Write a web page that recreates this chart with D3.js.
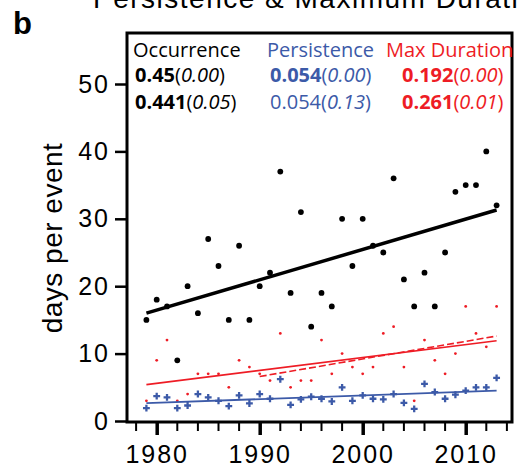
<!DOCTYPE html>
<html>
<head>
<meta charset="utf-8">
<script src="https://cdn.jsdelivr.net/npm/d3@7"></script>
<style>
body { margin: 0; background: #fff; }
</style>
</head>
<body>
<div id="chart"></div>
<script>
const WIDTH = 518;
const HEIGHT = 475;
const BLUE = "#3c5aa8";
const RED = "#ee1c25";

const years = [1979, 1980, 1981, 1982, 1983, 1984, 1985, 1986, 1987, 1988, 1989, 1990,
  1991, 1992, 1993, 1994, 1995, 1996, 1997, 1998, 1999, 2000, 2001, 2002, 2003, 2004,
  2005, 2006, 2007, 2008, 2009, 2010, 2011, 2012, 2013];
const occurrence = [15, 18, 17, 9, 20, 16, 27, 23, 15, 26, 15, 20, 22, 37, 19, 31, 14, 19,
  17, 30, 23, 30, 26, 25, 36, 21, 17, 22, 17, 25, 34, 35, 35, 40, 32];
const maxDuration = [3, 9, 12, 3, 4, 7, 7, 7, 5, 9, 8, 7, 6, 13, 5, 6, 6, 12, 7, 10, 8, 7,
  8, 13, 14, 8, 3, 12, 9, 7, 10, 17, 13, 11, 17];
const persistence = [1.9, 3.7, 3.5, 1.9, 2.3, 4.0, 3.5, 3.0, 2.2, 3.8, 2.6, 4.0, 3.3, 6.2,
  2.4, 3.2, 3.6, 3.3, 2.9, 5.0, 3.0, 3.8, 3.3, 3.2, 4.0, 2.7, 1.8, 5.5, 4.3, 3.3, 3.9, 4.5,
  5.0, 5.0, 6.4];

// trend line end points
const occTrend = [[1979, 16.0], [2013, 31.3]];
const durTrend = [[1979, 5.4], [2013, 11.9]];
const durTrend90 = [[1990, 6.6], [2013, 12.6]];
const perTrend = [[1979, 2.65], [2013, 4.5]];

const yTicks = [0, 10, 20, 30, 40, 50];
const xMajor = [1980, 1990, 2000, 2010];
const xMinor = [1978, 1982, 1984, 1986, 1988, 1992, 1994, 1996, 1998, 2002, 2004, 2006, 2008, 2012, 2014];

const legendHeads = ["Occurrence", "Persistence", "Max Duration"];
const legendRow1 = [["0.45", "0.00"], ["0.054", "0.00"], ["0.192", "0.00"]];
const legendRow2 = [["0.441", "0.05"], ["0.054", "0.13"], ["0.261", "0.01"]];

const svg = d3.select("#chart").append("svg")
  .attr("width", WIDTH)
  .attr("height", HEIGHT);

const x = d3.scaleLinear().domain([1980, 2010]).range([156.7, 465.7]);
const y = d3.scaleLinear().domain([0, 50]).range([421, 84]);

const frame = { left: 127, right: 512, top: 33, bottom: 422 };

// title (cut off at the top and right, as in the figure) and panel letter
svg.append("text")
  .attr("x", 93).attr("y", 8)
  .style("font-family", "Liberation Sans, Arial, sans-serif")
  .style("font-size", "28px")
  .style("letter-spacing", "1.5px")
  .text("Persistence & Maximum Duration");

svg.append("text")
  .attr("x", 13).attr("y", 34)
  .style("font-family", "Liberation Sans, Arial, sans-serif")
  .style("font-size", "31px")
  .style("font-weight", "bold")
  .text("b");

// y axis
const yAxis = svg.append("g")
  .attr("transform", `translate(${frame.left},0)`)
  .call(d3.axisLeft(y).tickValues(yTicks).tickSize(12).tickPadding(5));
yAxis.select(".domain").remove();
yAxis.selectAll(".tick line").attr("stroke", "black").attr("stroke-width", 2.5);
yAxis.selectAll(".tick text")
  .style("font-family", "Liberation Sans, Arial, sans-serif")
  .style("font-size", "25px")
  .style("letter-spacing", "2px")
  .attr("fill", "black");

// x axis
const xAxis = svg.append("g")
  .attr("transform", `translate(0,${frame.bottom})`)
  .call(d3.axisBottom(x).tickValues(xMajor).tickFormat(d3.format("d")).tickSize(13).tickPadding(10));
xAxis.select(".domain").remove();
xAxis.selectAll(".tick line").attr("stroke", "black").attr("stroke-width", 3.5);
xAxis.selectAll(".tick text")
  .style("font-family", "Liberation Sans, Arial, sans-serif")
  .style("font-size", "25px")
  .style("letter-spacing", "2px")
  .attr("fill", "black");

svg.append("g").selectAll("line")
  .data(xMinor)
  .enter()
  .append("line")
  .attr("x1", d => x(d)).attr("x2", d => x(d))
  .attr("y1", frame.bottom).attr("y2", frame.bottom + 9)
  .attr("stroke", "black").attr("stroke-width", 2);

svg.append("text")
  .attr("transform", "translate(62,238) rotate(-90)")
  .attr("text-anchor", "middle")
  .style("font-family", "Liberation Sans, Arial, sans-serif")
  .style("font-size", "28px")
  .style("letter-spacing", "0.5px")
  .text("days per event");

// frame
svg.append("rect")
  .attr("x", frame.left).attr("y", frame.top)
  .attr("width", frame.right - frame.left)
  .attr("height", frame.bottom - frame.top)
  .attr("fill", "none")
  .attr("stroke", "black")
  .attr("stroke-width", 3);

// points
svg.append("g").selectAll("circle")
  .data(years)
  .enter()
  .append("circle")
  .attr("cx", d => x(d))
  .attr("cy", (d, i) => y(occurrence[i]))
  .attr("r", 2.9)
  .attr("fill", "black");

svg.append("g").selectAll("circle")
  .data(years)
  .enter()
  .append("circle")
  .attr("cx", d => x(d))
  .attr("cy", (d, i) => y(maxDuration[i]))
  .attr("r", 1.4)
  .attr("fill", RED);

const cross = d3.symbol().type(d3.symbolCross).size(26);
svg.append("g").selectAll("path")
  .data(years)
  .enter()
  .append("path")
  .attr("d", cross)
  .attr("transform", (d, i) => `translate(${x(d)},${y(persistence[i])})`)
  .attr("fill", BLUE);

// trend lines
const line = d3.line().x(d => x(d[0])).y(d => y(d[1]));

svg.append("path").datum(occTrend).attr("d", line)
  .attr("stroke", "black").attr("stroke-width", 3.5).attr("fill", "none");
svg.append("path").datum(durTrend).attr("d", line)
  .attr("stroke", RED).attr("stroke-width", 1.6).attr("fill", "none");
svg.append("path").datum(durTrend90).attr("d", line)
  .attr("stroke", RED).attr("stroke-width", 1.6).attr("stroke-dasharray", "7,3").attr("fill", "none");
svg.append("path").datum(perTrend).attr("d", line)
  .attr("stroke", BLUE).attr("stroke-width", 1.8).attr("fill", "none");

// legend
const colX = [133, 267, 386];
const numX = [135, 270, 402];
const colColor = ["black", BLUE, RED];
const legendFont = "Open Sans, Noto Sans, sans-serif";

svg.append("g").selectAll("text")
  .data(legendHeads)
  .enter()
  .append("text")
  .attr("x", (d, i) => colX[i]).attr("y", 57)
  .attr("fill", (d, i) => colColor[i])
  .style("font-family", legendFont)
  .style("font-size", "20px")
  .text(d => d);

let addRow = (row, yPos, boldFlags) => {
  row.forEach((cell, i) => {
    let t = svg.append("text")
      .attr("x", numX[i]).attr("y", yPos)
      .attr("fill", colColor[i])
      .style("font-family", legendFont)
      .style("font-size", "20px");
    t.append("tspan").style("font-weight", boldFlags[i] ? "bold" : "normal").text(cell[0]);
    t.append("tspan").text("(");
    t.append("tspan").style("font-style", "italic").text(cell[1]);
    t.append("tspan").text(")");
  });
}
addRow(legendRow1, 82, [true, true, true]);
addRow(legendRow2, 109, [true, false, true]);
</script>
</body>
</html>
